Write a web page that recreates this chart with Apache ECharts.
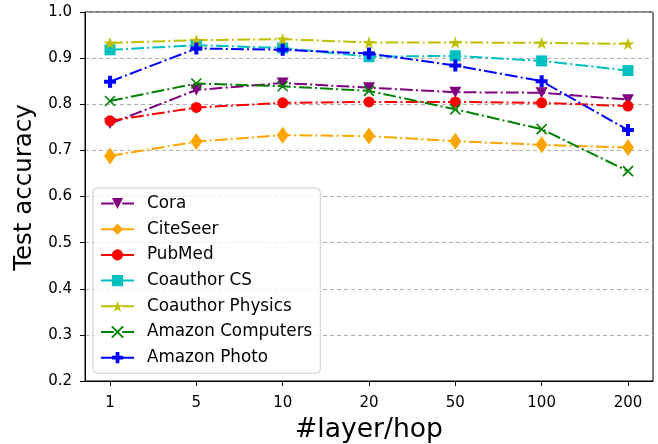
<!DOCTYPE html>
<html>
<head>
<meta charset="utf-8">
<script src="https://cdn.jsdelivr.net/npm/echarts@6/dist/echarts.min.js"></script>
<style>
html,body{margin:0;padding:0;background:#fff;}
#chart{width:658px;height:444px;}
</style>
</head>
<body>
<div id="chart"></div>
<script>
const categories = ['1', '5', '10', '20', '50', '100', '200'];
const yTicks = [0.2, 0.3, 0.4, 0.5, 0.6, 0.7, 0.8, 0.9, 1.0];

const cora            = [0.758, 0.831, 0.846, 0.836, 0.826, 0.825, 0.810];
const citeseer        = [0.688, 0.719, 0.733, 0.731, 0.720, 0.712, 0.706];
const pubmed          = [0.764, 0.793, 0.803, 0.805, 0.805, 0.803, 0.796];
const coauthorCS      = [0.918, 0.928, 0.922, 0.903, 0.905, 0.894, 0.873];
const coauthorPhysics = [0.933, 0.939, 0.941, 0.934, 0.934, 0.933, 0.931];
const amazonComputers = [0.807, 0.845, 0.839, 0.829, 0.789, 0.746, 0.655];
const amazonPhoto     = [0.849, 0.921, 0.918, 0.910, 0.884, 0.850, 0.744];

const FONT = 'DejaVu Sans';
const DASH = [12.8, 3.2, 2, 3.2];

const STAR = 'path://M100,0 L122.45,69.1 L195.1,69.1 L136.3,111.8 L158.8,180.9 L100,138.2 L41.2,180.9 L63.7,111.8 L4.9,69.1 L77.55,69.1 Z';
const PLUS = 'path://M33.3,0 H66.7 V33.3 H100 V66.7 H66.7 V100 H33.3 V66.7 H0 V33.3 H33.3 Z';
const XMARK = 'path://M0,0 L10,10 M10,0 L0,10';

function toPairs(arr) { return arr.map((v, i) => [i, v]); }

function mk(name, data, color, symbol, size, extra) {
  const s = {
    name: name,
    type: 'line',
    data: toPairs(data),
    symbol: symbol,
    symbolSize: size,
    symbolKeepAspect: true,
    color: color,
    lineStyle: { color: color, width: 2, type: DASH, cap: 'butt' },
    itemStyle: { color: color },
    emphasis: { disabled: true },
    animation: false
  };
  return Object.assign(s, extra || {});
}

const series = [
  mk('Cora', cora, '#800080', 'triangle', [12, 11], { symbolRotate: 180 }),
  mk('CiteSeer', citeseer, '#FFA500', 'diamond', [12, 17]),
  mk('PubMed', pubmed, '#FF0000', 'circle', 11),
  mk('Coauthor CS', coauthorCS, '#00BFBF', 'rect', 11),
  mk('Coauthor Physics', coauthorPhysics, '#BFBF00', STAR, 13),
  mk('Amazon Computers', amazonComputers, '#008000', XMARK, 10, {
    itemStyle: { color: 'none', borderColor: '#008000', borderWidth: 1.6 }
  }),
  mk('Amazon Photo', amazonPhoto, '#0000FF', PLUS, 12)
];

const chart = echarts.init(document.getElementById('chart'), null, { renderer: 'canvas' });
chart.setOption({
  animation: false,
  backgroundColor: '#fff',
  textStyle: { fontFamily: FONT },
  grid: {
    left: 85, right: 5, top: 12, bottom: 63,
    containLabel: false,
    outerBoundsMode: 'none',
    show: true, borderColor: '#000', borderWidth: 1, backgroundColor: 'transparent'
  },
  legend: {
    orient: 'vertical',
    left: 93, top: 188,
    padding: [7, 8, 7, 7],
    itemGap: 8.7,
    itemWidth: 33,
    itemHeight: 14,
    backgroundColor: 'rgba(255,255,255,0.8)',
    borderColor: '#cccccc',
    borderWidth: 1,
    borderRadius: 4,
    textStyle: { fontFamily: FONT, fontSize: 16.8, color: '#000', padding: [0, 0, 0, 8], lineHeight: 17 },
    data: series.map(s => s.name)
  },
  xAxis: {
    type: 'value',
    min: -0.29,
    max: 6.29,
    name: '#layer/hop',
    nameLocation: 'middle',
    nameGap: 36,
    nameTextStyle: { fontFamily: FONT, fontSize: 26.6, color: '#000' },
    axisLine: { show: true, onZero: false, lineStyle: { color: '#000', width: 1 } },
    axisTick: { show: true, length: 5, lineStyle: { color: '#000' }, customValues: [0, 1, 2, 3, 4, 5, 6] },
    axisLabel: {
      show: true, margin: 15, fontFamily: FONT, fontSize: 15, color: '#000',
      customValues: [0, 1, 2, 3, 4, 5, 6],
      formatter: v => categories[Math.round(v)]
    },
    splitLine: { show: false }
  },
  yAxis: {
    type: 'value',
    min: 0.2,
    max: 1.0,
    interval: 0.1,
    name: 'Test accuracy',
    nameLocation: 'middle',
    nameGap: 42,
    nameTextStyle: { fontFamily: FONT, fontSize: 24.5, color: '#000', padding: [0, 0, 0, 18] },
    axisLine: { show: true, onZero: false, lineStyle: { color: '#000', width: 1 } },
    axisTick: { show: true, length: 5, lineStyle: { color: '#000' } },
    axisLabel: {
      margin: 13, fontFamily: FONT, fontSize: 15, color: '#000',
      formatter: v => v.toFixed(1)
    },
    splitLine: { show: true, lineStyle: { color: '#b0b0b0', type: [4, 3], width: 1 } }
  },
  series: series
});
</script>
</body>
</html>
